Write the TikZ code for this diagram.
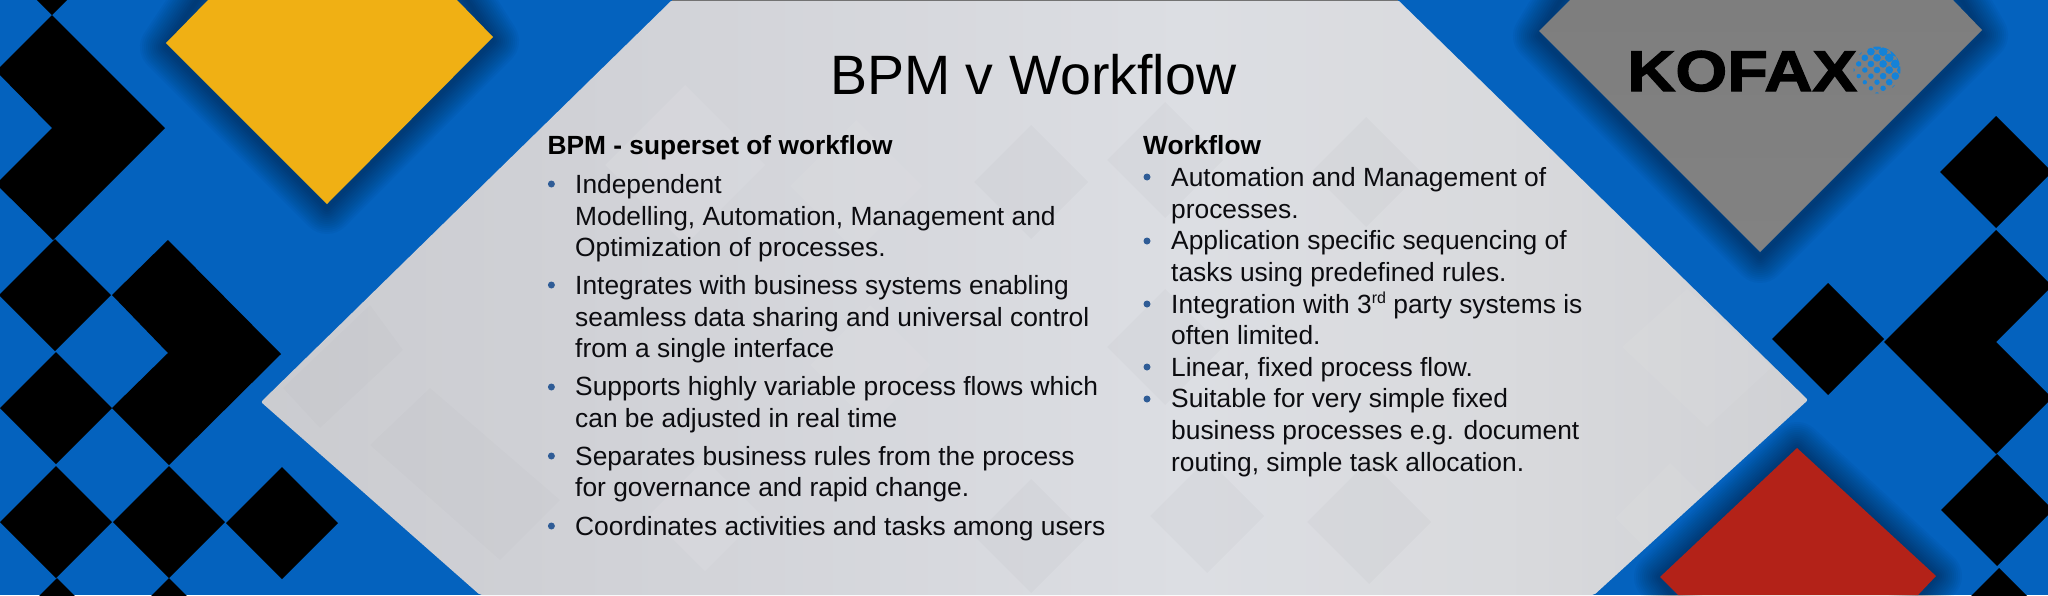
\documentclass[tikz,border=0pt]{standalone}
\usepackage{fontspec}
\setmainfont{Liberation Sans}
\newfontfamily\kofaxfont[FakeBold=2.2,FakeStretch=1.16]{Liberation Sans Bold}
\definecolor{bgblue}{HTML}{0462BE}
\definecolor{gold}{HTML}{F0B014}
\definecolor{brick}{HTML}{B32218}
\definecolor{bulletblue}{HTML}{2F5C96}
\definecolor{dots}{HTML}{1482D8}
\definecolor{ink}{HTML}{0C0C10}
\definecolor{pa}{HTML}{CFD0D3}
\definecolor{pb}{HTML}{C8C9CD}
\definecolor{pc}{HTML}{D0D1D6}
\definecolor{pd}{HTML}{DCDEE3}
\definecolor{pe}{HTML}{D9DADD}
\definecolor{pf}{HTML}{CBCCD0}
\definecolor{pg}{HTML}{C6C7CA}
\definecolor{slatetop}{HTML}{7E7E7E}
\definecolor{slatelow}{HTML}{828282}
\pgfdeclarehorizontalshading{panelshade}{100bp}{
  color(0bp)=(pa);
  color(20bp)=(pb);
  color(35bp)=(pc);
  color(55bp)=(pd);
  color(65bp)=(pe);
  color(80bp)=(pf);
  color(100bp)=(pg)}
\tikzset{
  line/.style={anchor=base west,font=\fontsize{26.35}{32}\selectfont,text=ink,inner sep=0pt},
  headline/.style={anchor=base west,font=\fontsize{26.3}{32}\selectfont\bfseries,text=black,inner sep=0pt},
  bul/.style={circle,fill=bulletblue,inner sep=0pt,minimum size=7pt},
  blk/.style={fill=black},
  faintd/.style={fill=black,fill opacity=.018},
  fainte/.style={fill=black,fill opacity=.010},
  faintl/.style={fill=white,fill opacity=.09},
  faintm/.style={fill=white,fill opacity=.05}
}
\newcommand{\softshadow}[2]{%
  \foreach \w in {4,8,...,52}{\draw[shift={#1},draw=black,draw opacity=.032,line width=\w pt,line join=round] #2;}}
\newcommand{\dm}[4][blk]{\fill[#1] (#2-#4,#3) -- (#2,#3-#4) -- (#2+#4,#3) -- (#2,#3+#4) -- cycle;}
\begin{document}
\begin{tikzpicture}[x=1pt,y=-1pt]
\useasboundingbox (0,0) rectangle (2048,595);
\clip (0,0) rectangle (2048,595);
\fill[bgblue] (0,0) rectangle (2048,595);
% soft shadows
\softshadow{(0,4)}{(208,-20) -- (166,43) -- (327,204) -- (493,37) -- (457,-20) -- cycle}
\softshadow{(0,5)}{(1570,-20) -- (1539,31) -- (1760,252) -- (1982,30) -- (1953,-20) -- cycle}
\softshadow{(0,0)}{(1797,448) -- (1936,576) -- (1900,620) -- (1690,620) -- (1660,577) -- cycle}
% panel
\shade[shading=panelshade,rounded corners=2pt] (672,0) -- (261,402) -- (480,595) -- (1594,595) -- (1808,400) -- (1398,0) -- cycle;
\begin{scope}
\clip (672,0) -- (261,402) -- (480,595) -- (1594,595) -- (1808,400) -- (1398,0) -- cycle;
\fill[black!55] (672,0) rectangle (1398,1.2);
\dm[faintd]{1031}{182}{57}
\dm[faintd]{1031}{536}{57}
\dm[faintd]{1165}{160}{58}
\dm[faintd]{1165}{347}{58}
\dm[faintd]{1207}{516}{57}
\dm[faintd]{1369}{522}{62}
\dm[faintd]{1366}{172}{55}
\dm[faintl]{685}{165}{80}
\dm[faintm]{856}{186}{66}
\dm[faintl]{705}{515}{56}
\dm[faintm]{870}{365}{60}
\fill[fainte] (283,388) -- (370,305) -- (403,350) -- (320,428) -- cycle;
\fill[fainte] (370,445) -- (430,388) -- (560,500) -- (500,560) -- cycle;
\fill[faintm] (1622,347) -- (1687,289) -- (1772,367) -- (1707,427) -- cycle;
\dm[faintm]{1670}{518}{55}
\end{scope}
% coloured tiles
\fill[gold] (208,0) -- (166,43) -- (327,204) -- (493,37) -- (457,0) -- cycle;
\shade[top color=slatetop,bottom color=slatelow] (1570,0) -- (1539,31) -- (1760,252) -- (1982,30) -- (1953,0) -- cycle;
\fill[brick] (1797,448) -- (1936,576) -- (1918,595) -- (1678,595) -- (1660,577) -- cycle;
% left black tiles
\dm{52}{-41}{56}
\fill[blk] (52,15) -- (165,128) -- (53,240) -- (-4,184) -- (52,128) -- (-4,71) -- cycle;
\dm{55}{295}{56}
\fill[blk] (168,240) -- (281,354) -- (169,465) -- (112,408) -- (168,353) -- (112,295) -- cycle;
\dm{56}{408}{56}
\dm{56}{522}{56}
\dm{169}{522}{56}
\dm{282}{523}{56}
\dm{57}{634}{56}
\dm{169}{634}{56}
% right black tiles
\dm{1996}{172}{56}
\fill[blk] (1996,230) -- (2052,286) -- (1996,342) -- (2052,398) -- (1996,454) -- (1884,342) -- cycle;
\dm{1828}{339}{56}
\dm{1997}{510}{56}
\dm{1999}{624}{56}
% logo
\node[anchor=base west,inner sep=0pt,text=black,font=\fontsize{57.5}{58}\kofaxfont] (logo) at (1627,91) {KOFAX};
\begin{scope}
\clip (1877,70) circle (23.5);
\foreach \i in {-3,...,3}{\foreach \j in {-3,...,3}{
  \pgfmathsetmacro{\dx}{6.1*(\i+\j)}
  \pgfmathsetmacro{\dy}{6.1*(\i-\j)}
  \pgfmathsetmacro{\rr}{max(1.0,3.3+(\dx-\dy)/22)}
  \fill[dots] (1877+\dx,70+\dy) circle (\rr pt);
}}
\end{scope}
% title
\node[anchor=base west,inner sep=0pt,text=black,font=\fontsize{55.5}{60}\selectfont] (title) at (830,94) {BPM v Workflow};
% left column
\node[headline] (lh) at (547.5,154.5) {BPM - superset of workflow};
\node[line] (l1) at (575,193) {Independent};
\node[line] (l2) at (575,225) {Modelling, Automation, Management and};
\node[line] (l3) at (575,256) {Optimization of processes.};
\node[line] (l4) at (575,294) {Integrates with business systems enabling};
\node[line] (l5) at (575,326) {seamless data sharing and universal control};
\node[line] (l6) at (575,357.5) {from a single interface};
\node[line] (l7) at (575,395.5) {Supports highly variable process flows which};
\node[line] (l8) at (575,427) {can be adjusted in real time};
\node[line] (l9) at (575,465) {Separates business rules from the process};
\node[line] (l10) at (575,496) {for governance and rapid change.};
\node[line] (l11) at (575,535) {Coordinates activities and tasks among users};
\foreach \y/\n in {184/a,285/b,387/c,456/d,526/e}{\node[bul] (bl\n) at (551.4,\y) {};}
% right column
\node[headline] (rh) at (1143,154.5) {Workflow};
\node[line] (r1) at (1171,186) {Automation and Management of};
\node[line] (r2) at (1171,218) {processes.};
\node[line] (r3) at (1171,249) {Application specific sequencing of};
\node[line] (r4) at (1171,281) {tasks using predefined rules.};
\node[line] (r5) at (1171,313) {Integration with 3\raisebox{.36em}{\fontsize{16}{16}\selectfont rd} party systems is};
\node[line] (r6) at (1171,344.6) {often limited.};
\node[line] (r7) at (1171,376) {Linear, fixed process flow.};
\node[line] (r8) at (1171,407.6) {Suitable for very simple fixed};
\node[line] (r9) at (1171,439.5) {business processes e.g. document};
\node[line] (r10) at (1171,471) {routing, simple task allocation.};
\foreach \y/\n in {177/a,241/b,304/c,367/d,399/e}{\node[bul] (br\n) at (1147,\y) {};}
\end{tikzpicture}
\end{document}
